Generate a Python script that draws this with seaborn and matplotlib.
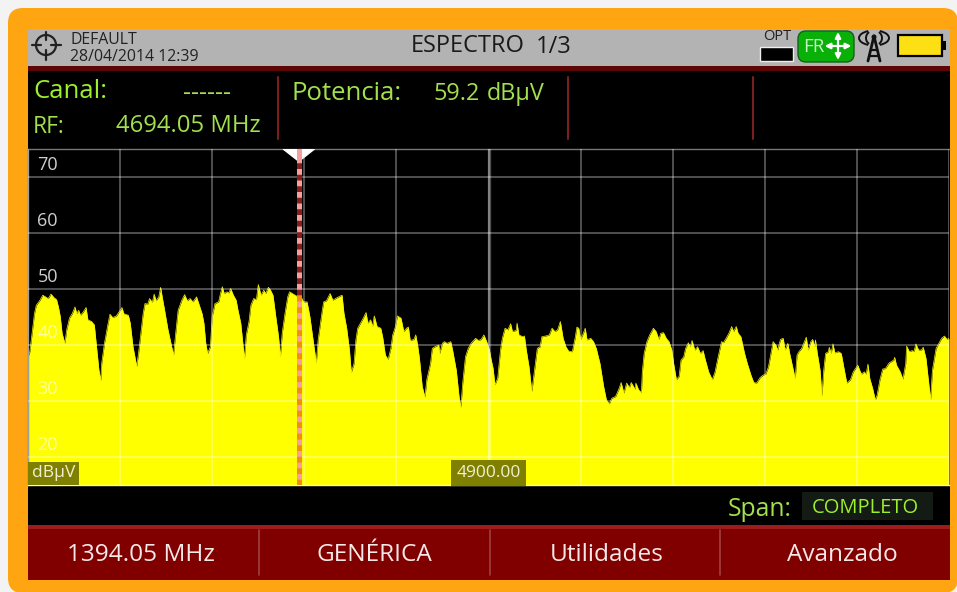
import numpy as np
import pandas as pd
import seaborn as sns
import matplotlib
matplotlib.use('Agg')
import matplotlib.pyplot as plt
from matplotlib.patches import Rectangle, FancyBboxPatch, Circle, Arc
from matplotlib.transforms import ScaledTranslation

# values
trace_freq = [
    4400, 4402, 4404, 4407, 4409, 4413, 4416, 4419, 4422, 4425, 4428, 4431, 4433, 4435, 4437, 4440,
    4442, 4445, 4448, 4451, 4453, 4455, 4457, 4460, 4463, 4465, 4469, 4472, 4474, 4477, 4479, 4480,
    4483, 4487, 4489, 4492, 4496, 4500, 4502, 4504, 4509, 4511, 4514, 4518, 4520, 4523, 4525, 4527,
    4530, 4532, 4535, 4537, 4539, 4542, 4544, 4546, 4548, 4552, 4556, 4558, 4560, 4563,
    4565, 4567, 4570, 4573, 4576, 4579, 4583, 4586, 4589, 4591, 4593, 4595, 4598, 4600, 4603, 4607,
    4609, 4611, 4613, 4616, 4618, 4620, 4623, 4626, 4628, 4631, 4634, 4635, 4637, 4640, 4642, 4645,
    4648, 4650, 4653, 4656, 4658, 4661, 4663, 4666, 4669, 4672, 4674, 4676, 4679, 4682, 4684, 4688,
    4692, 4695, 4699, 4703, 4706, 4710, 4713, 4715, 4719, 4721, 4724, 4728, 4731,
    4736, 4741, 4743, 4746, 4749, 4751, 4754, 4756, 4758, 4762, 4764, 4767, 4769, 4772, 4774, 4776,
    4779, 4783, 4785, 4788, 4791, 4794, 4796, 4799, 4801, 4805, 4808, 4811, 4813, 4815, 4819, 4821,
    4823, 4825, 4828, 4831, 4833, 4837, 4839, 4842, 4846, 4847, 4850, 4852, 4855, 4859, 4861, 4865,
    4868, 4870, 4872, 4875, 4878, 4881, 4886, 4889, 4892, 4895,
    4898, 4901, 4903, 4905, 4907, 4910, 4913, 4915, 4918, 4921, 4924, 4926, 4930, 4931, 4933, 4937,
    4939, 4941, 4944, 4947, 4950, 4953, 4956, 4958, 4962, 4966, 4969, 4972, 4975, 4978, 4981, 4984,
    4987, 4991, 4994, 4996, 4998, 5000, 5003, 5005, 5007, 5011, 5014, 5017, 5021, 5025, 5028, 5031,
    5034, 5038, 5042, 5044, 5047, 5050, 5053, 5055, 5059,
    5060, 5063, 5066, 5067, 5069, 5072, 5075, 5079, 5082, 5085, 5087, 5090, 5093, 5096, 5099, 5101,
    5104, 5107, 5109, 5112, 5114, 5117, 5119, 5121, 5124, 5127, 5130, 5133, 5135, 5139, 5143, 5146,
    5149, 5153, 5155, 5158, 5161, 5164, 5166, 5169, 5171, 5174, 5178, 5181, 5185, 5188, 5191, 5195,
    5198, 5201, 5204, 5207, 5209, 5212, 5214, 5217, 5220, 5222, 5225, 5227,
    5233, 5235, 5237, 5240, 5243, 5245, 5247, 5250, 5252, 5254, 5255, 5257, 5260, 5262, 5264, 5266,
    5269, 5270, 5272, 5274, 5276, 5280, 5283, 5286, 5289, 5293, 5296, 5301, 5303, 5305, 5308, 5310,
    5312, 5314, 5317, 5320, 5322, 5325, 5328, 5331, 5335, 5340, 5341, 5343, 5347, 5350, 5353, 5354,
    5357, 5360, 5362, 5364, 5367, 5370, 5372, 5375, 5377, 5380, 5382, 5386, 5389, 5392, 5395, 5398, 5400,
]
trace_level = [
    37.9, 38.8, 41.5, 45.6, 47.1, 48.0, 48.9, 48.6, 48.3, 49.1, 48.5, 48.1, 46.8, 45.1, 42.1, 40.3,
    42.7, 44.8, 45.6, 46.8, 45.6, 46.2, 45.3, 45.9, 46.7, 44.5, 44.2, 43.6, 40.3, 35.5, 33.7, 36.7,
    40.3, 43.9, 45.5, 44.9, 45.2, 46.2, 46.7, 45.6, 45.3, 43.9, 39.7, 36.2, 38.5, 42.7, 45.6, 47.4,
    47.3, 48.3, 47.6, 49.1, 47.9, 48.6, 50.3, 48.3, 46.5, 42.7, 39.7, 38.2, 41.5, 46.2,
    47.1, 48.0, 49.0, 47.9, 48.3, 47.7, 48.6, 47.1, 45.6, 43.9, 40.3, 38.5, 39.7, 45.1, 47.4, 47.7,
    49.2, 50.4, 49.2, 49.5, 49.3, 50.1, 48.9, 48.0, 46.2, 43.9, 39.1, 37.6, 41.8, 44.2, 47.1, 48.3,
    48.1, 50.8, 48.9, 49.8, 49.2, 50.3, 49.9, 48.9, 45.1, 41.5, 37.9, 42.1, 45.6, 48.6, 49.5, 49.1,
    48.7, 49.2, 47.7, 47.7, 45.1, 40.3, 36.8, 40.9, 45.6, 47.7, 47.9, 49.2, 48.0,
    48.5, 48.9, 45.7, 43.0, 39.1, 35.1, 36.7, 40.9, 43.0, 44.2, 44.8, 45.8, 43.9, 44.5, 43.3, 45.2,
    43.3, 43.0, 41.5, 38.2, 37.4, 39.4, 41.8, 43.3, 45.2, 44.8, 42.4, 43.0, 43.2, 40.8, 41.0, 41.8,
    40.0, 37.6, 32.6, 30.7, 33.8, 36.7, 39.4, 39.7, 40.0, 38.5, 40.3, 40.6, 40.3, 40.6, 39.1, 35.5,
    30.8, 28.9, 33.2, 37.9, 39.4, 40.3, 41.2, 40.8, 41.0, 41.8,
    40.6, 39.1, 37.3, 35.8, 32.9, 34.1, 39.1, 41.2, 43.0, 42.7, 43.8, 42.4, 42.6, 43.9, 41.8, 41.5,
    41.6, 39.1, 36.1, 31.7, 35.5, 39.4, 39.7, 41.5, 41.6, 41.8, 43.0, 42.4, 42.7, 44.2, 41.2, 39.7,
    38.9, 38.8, 41.2, 43.2, 43.0, 41.0, 42.1, 43.0, 40.9, 41.2, 40.6, 39.4, 36.7, 32.6, 30.2, 29.5,
    30.5, 30.8, 32.3, 33.3, 31.4, 33.2, 32.4, 33.3, 32.1,
    33.2, 32.0, 31.5, 35.2, 38.5, 40.6, 41.8, 43.0, 42.4, 41.0, 42.1, 42.2, 41.2, 40.6, 39.1, 36.7,
    33.8, 34.4, 37.3, 37.9, 39.4, 40.4, 39.7, 40.8, 39.1, 39.7, 38.5, 39.0, 37.6, 35.2, 33.8, 35.2,
    37.6, 40.6, 40.4, 41.2, 42.1, 43.3, 42.4, 43.3, 42.1, 41.5, 38.5, 36.7, 34.6, 33.3, 33.2, 34.2,
    34.6, 34.8, 36.1, 38.8, 40.6, 40.0, 39.1, 41.0, 41.2, 39.1, 40.3, 38.5,
    34.0, 38.2, 38.8, 39.4, 40.6, 41.4, 39.1, 40.6, 41.0, 39.7, 40.9, 38.5, 35.5, 30.9, 35.5, 38.5,
    38.8, 39.6, 38.5, 40.2, 38.6, 38.8, 38.5, 35.8, 33.2, 33.8, 35.2, 36.4, 35.5, 34.8, 35.2, 34.8,
    36.6, 34.0, 32.3, 30.2, 31.1, 33.8, 35.7, 35.8, 36.8, 37.3, 37.8, 36.4, 35.2, 33.9, 36.7, 39.8,
    38.8, 39.0, 38.8, 40.2, 39.1, 39.1, 39.6, 37.6, 34.6, 30.3, 35.5, 39.4, 40.3, 41.2, 41.6, 41.0, 41.2,
]
level_ticks = [20, 30, 40, 50, 60, 70]
freq_ticks = [4400, 4500, 4600, 4700, 4800, 4900, 5000, 5100, 5200, 5300, 5400]
marker_freq = 4694.05
center_freq = 4900
softkeys = ['1394.05 MHz', 'GENÉRICA', 'Utilidades', 'Avanzado']

W, H = 957, 592
LIME = '#9df02c'
GREEN = '#a2e04e'

sns.set_style('dark')
plt.rcParams['font.family'] = ['Open Sans', 'DejaVu Sans']

df = pd.DataFrame({'freq': trace_freq, 'level': trace_level})

fig = plt.figure(figsize=(W / 100, H / 100), dpi=100, facecolor='#f3f3f3')

# frame of the instrument, in pixels
bg = fig.add_axes([0, 0, 1, 1], zorder=0)
bg.set_xlim(0, W)
bg.set_ylim(H, 0)
bg.axis('off')


def txt(x, y, s, size, color='black', ha='left', **kw):
    bg.text(x, y, s, fontsize=size, color=color, ha=ha, va='center', **kw)


bg.add_patch(FancyBboxPatch((8, 8), 950, 585, boxstyle='round,pad=0,rounding_size=15', fc='#fea511', lw=0))
bg.add_patch(Rectangle((28, 29), 922, 38, fc='#b3b3b3', lw=0))
bg.add_patch(Rectangle((28, 66), 922, 5, fc='#5e0505', lw=0))
bg.add_patch(Rectangle((28, 71), 922, 454, fc='black', lw=0))
bg.add_patch(Rectangle((28, 525), 922, 55, fc='#800000', lw=0))
bg.add_patch(Rectangle((28, 525), 922, 4, fc='#a01c1c', lw=0))

# crosshair icon
bg.add_patch(Circle((46, 45), 10, fc='none', ec='#222222', lw=1.6))
bg.plot([32, 41], [45, 45], color='#222222', lw=1.6)
bg.plot([51, 61], [45, 45], color='#222222', lw=1.6)
bg.plot([46, 46], [32, 40], color='#222222', lw=1.6)
bg.plot([46, 46], [50, 60], color='#222222', lw=1.6)

txt(70, 39.5, 'DEFAULT', 11.4, '#222222')
txt(70, 57, '28/04/2014 12:39', 11.4, '#222222')
txt(411, 46, 'ESPECTRO', 17, '#1a1a1a')
txt(536, 47, '1/3', 17, '#1a1a1a')

# status icons
txt(777, 37, 'OPT', 10.5, '#222222', ha='center')
bg.add_patch(Rectangle((760, 47), 33, 14, fc='black', ec='#eeeeee', lw=1))
bg.add_patch(FancyBboxPatch((798, 31), 56, 31, boxstyle='round,pad=0,rounding_size=8', fc='#08b008', ec='#14601a', lw=1))
txt(803, 47, 'FR', 13.5, '#c8f5c8')
for (dx, dy) in [(-13.5, 0), (13.5, 0), (0, -14), (0, 14)]:
    bg.annotate('', xy=(838 + dx, 46 + dy), xytext=(838, 46),
                arrowprops=dict(arrowstyle='-|>', color='white', lw=1.6, mutation_scale=8, shrinkA=0, shrinkB=0))
bg.plot([868, 874, 880], [61, 36, 61], color='#111111', lw=2)
bg.plot([871, 877], [50, 50], color='#111111', lw=1.6)
bg.plot([870, 878], [56, 56], color='#111111', lw=1.6)
bg.add_patch(Circle((874, 37), 2.5, fc='#111111', lw=0))
for d, a in [(16, 50), (30, 50)]:
    bg.add_patch(Arc((874, 38), d, 15, theta1=180 - a, theta2=180 + a, color='#111111', lw=1.4))
    bg.add_patch(Arc((874, 38), d, 15, theta1=-a, theta2=a, color='#111111', lw=1.4))
bg.add_patch(Rectangle((898, 35), 44, 21, fc='#fde013', ec='black', lw=1.6))
bg.add_patch(Rectangle((942, 41), 4, 9, fc='black', lw=0))

# readout panel
txt(33, 91, 'Canal:', 18.5, LIME)
txt(183, 94, '------', 18, GREEN)
txt(33, 127, 'RF:', 16.5, GREEN)
txt(116, 126, '4694.05 MHz', 17.2, GREEN)
txt(292, 94, 'Potencia:', 18.5, GREEN)
txt(433, 94, '59.2', 16.8, GREEN)
txt(487, 94, 'dBµV', 16.8, GREEN)
for x in [278, 568, 753]:
    bg.plot([x, x], [77, 139], color='#7a1f1f', lw=1.5)

# span and softkeys
txt(728, 509, 'Span:', 17.8, GREEN)
bg.add_patch(Rectangle((802, 492), 131, 28, fc='#141a14', lw=0))
txt(812, 508, 'COMPLETO', 14.5, LIME)
for x in [259, 490, 720]:
    bg.plot([x, x], [530, 575], color='#a04040', lw=1.2)
for x, s in zip([141, 374, 607, 842], softkeys):
    txt(x, 555, s, 17.6, '#f4e8e8', ha='center')

# spectrum
ax = fig.add_axes([28 / W, 1 - 485 / H, 921 / W, 336 / H], zorder=1, facecolor='black')
ax.fill_between(df['freq'], 15, df['level'], color='#ffff00', lw=0, zorder=1)
sns.lineplot(data=df, x='freq', y='level', color='#f0f000', lw=0.5, ax=ax, zorder=1.5)

ax.set_xlim(freq_ticks[0], freq_ticks[-1])
ax.set_ylim(15, 75)
ax.set_xlabel('')
ax.set_ylabel('')
ax.set_xticks(freq_ticks)
ax.set_xticklabels([])
ax.set_yticks(level_ticks)
ax.set_yticklabels([str(v) for v in level_ticks], fontsize=13, va='bottom')
ax.tick_params(axis='y', length=0, pad=-21.5)
ax.tick_params(axis='x', length=0)
lift = ScaledTranslation(0, 2 / 72, fig.dpi_scale_trans)
for v, lab in zip(level_ticks, ax.get_yticklabels()):
    # labels sitting on the yellow trace are washed out
    lab.set_color('#ffffa8' if v <= 40 else '#cfcfcf')
    lab.set_transform(lab.get_transform() + lift)
ax.set_axisbelow(False)
ax.grid(True, color='white', alpha=0.4, lw=1.1)
ax.axvline(center_freq, color='white', alpha=0.3, lw=2.4, zorder=2.6)
for s in ax.spines.values():
    s.set_visible(False)
ax.spines['top'].set(visible=True, color='#777777', lw=1)
ax.spines['left'].set(visible=True, color='#777777', lw=1)
ax.spines['bottom'].set(visible=True, color='#ffffa0', lw=1)

# marker
marker_level = 49.0
ax.fill([marker_freq - 17, marker_freq + 17, marker_freq], [75, 75, 72.8], color='white', zorder=3, clip_on=True)
ax.axvline(marker_freq, color='#f4a0a0', lw=3.6, zorder=3.1)
ax.plot([marker_freq, marker_freq], [marker_level, 72.8], color='#8a1c1c', lw=3.6, ls=(0, (1.15, 1.15)), zorder=3.2)
ax.plot([marker_freq, marker_freq], [15, marker_level], color='#f58a14', lw=3.6, ls=(0, (1.15, 1.15)), zorder=3.2)

ax.text(freq_ticks[0] + 4, 15.7, 'dBµV', fontsize=12.5, color='#f0f0d0', ha='left', va='bottom', zorder=4,
        bbox=dict(boxstyle='square,pad=0.2', fc='#808000', ec='none'))
ax.text(center_freq, 15.7, f'{center_freq:.2f}', fontsize=12.5, color='#f0f0d0', ha='center', va='bottom', zorder=4,
        bbox=dict(boxstyle='square,pad=0.3', fc='#808000', ec='none'))

fig.savefig('out.png', dpi=100, facecolor=fig.get_facecolor())
